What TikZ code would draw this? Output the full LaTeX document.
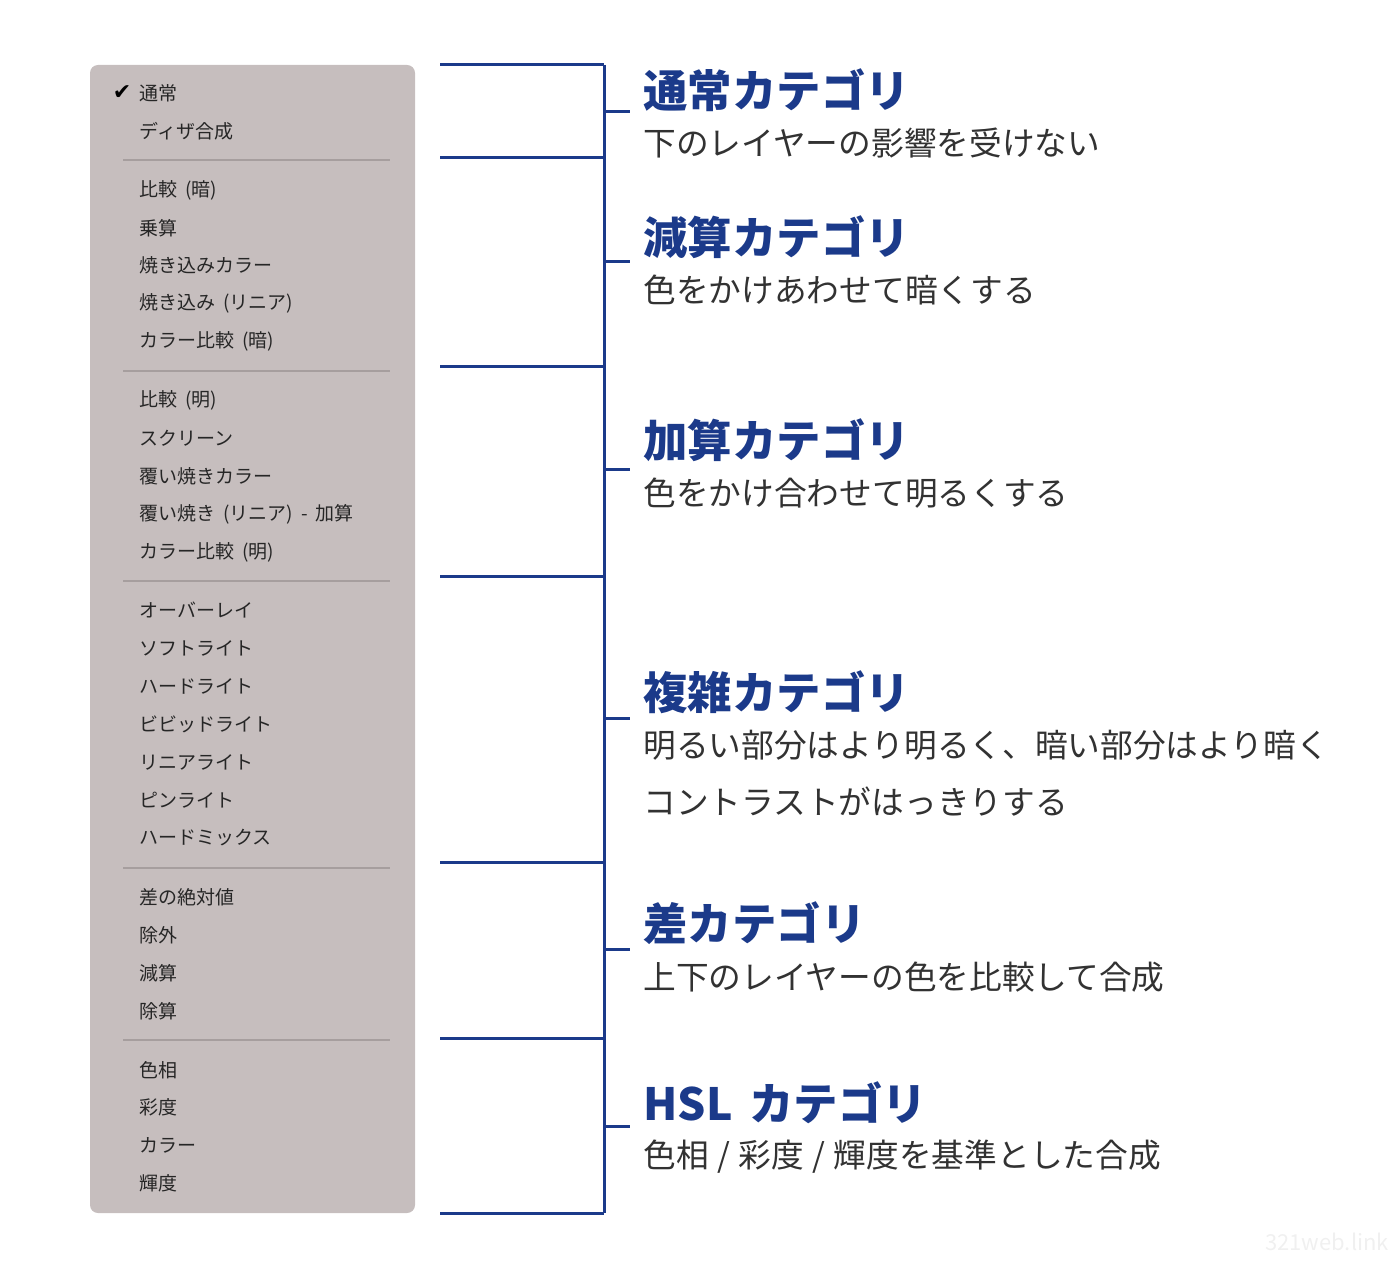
\documentclass[tikz,border=0pt]{standalone}
\usepackage{fontspec}
\setmainfont{Noto Sans CJK JP}
\newfontfamily\symfont{DejaVu Sans}
\usetikzlibrary{positioning}

\definecolor{catblue}{RGB}{27,58,138}
\definecolor{menubg}{RGB}{198,190,190}
\definecolor{menusep}{RGB}{166,158,158}
\definecolor{subgray}{RGB}{50,50,50}

\newcommand\itemfont{\fontsize{9.5}{11}\selectfont\spaceskip=0.42em\relax}
\newcommand\subfont{\fontsize{16.35}{19}\selectfont\spaceskip=0.26em\relax}

\tikzset{
	item/.style={anchor=west,inner sep=0pt,text=black!85,font=\itemfont},
	cattitle/.style={anchor=west,inner sep=0pt,text=catblue,
		font=\fontsize{22.2}{26}\selectfont\bfseries},
	catsub/.style={anchor=west,inner sep=0pt,text=subgray,font=\subfont},
	bracket/.style={draw=catblue,line width=1.5pt},
	menusepline/.style={draw=menusep,line width=0.6pt}}

\begin{document}
\begin{tikzpicture}[x=0.5pt,y=-0.5pt]
	\useasboundingbox (0,0) rectangle (1400,1262);
	% menu
	\fill[menubg,rounded corners=4pt] (90,65) rectangle (415,1213);
	\node[font=\symfont\fontsize{11}{12}\selectfont,inner sep=0pt](check) at (122,93){✔};
	\foreach \y/\t in {93/通常,131/ディザ合成,
		190/比較 (暗),228/乗算,265/焼き込みカラー,303/焼き込み (リニア),341/カラー比較 (暗),
		400/比較 (明),438/スクリーン,476/覆い焼きカラー,514/覆い焼き (リニア) - 加算,552/カラー比較 (明),
		610/オーバーレイ,648/ソフトライト,686/ハードライト,724/ビビッドライト,762/リニアライト,800/ピンライト,838/ハードミックス,
		897/差の絶対値,935/除外,973/減算,1011/除算,
		1070/色相,1107/彩度,1145/カラー,1183/輝度}
		\node[item](m\y) at (139,\y){\t};
	\foreach \y in {160,371,581,868,1040}
		\draw[menusepline] (123,\y) -- (390,\y);
	% bracket
	\foreach \y [count=\i] in {65,158,366,576,862,1038,1213}{
		\coordinate (l\i) at (440,\y);
		\coordinate (r\i) at (604,\y);
		\draw[bracket] (l\i) -- (r\i);}
	\draw[bracket] (r1) -- (r7);
	\foreach \y [count=\i] in {112,262,469,718,949,1126}{
		\coordinate (t\i) at (604,\y);
		\coordinate (u\i) at (630,\y);
		\draw[bracket] (t\i) -- (u\i);}
	% categories
	\node[cattitle](c1) at (643,90){通常カテゴリ};
	\node[catsub](s1) at (643,143){下のレイヤーの影響を受けない};
	\node[cattitle](c2) at (643,237){減算カテゴリ};
	\node[catsub](s2) at (643,290){色をかけあわせて暗くする};
	\node[cattitle](c3) at (643,440){加算カテゴリ};
	\node[catsub](s3) at (643,493){色をかけ合わせて明るくする};
	\node[cattitle](c4) at (643,692){複雑カテゴリ};
	\node[catsub](s4) at (643,745){明るい部分はより明るく、暗い部分はより暗く};
	\node[catsub](s4b) at (643,802){コントラストがはっきりする};
	\node[cattitle](c5) at (643,923){差カテゴリ};
	\node[catsub](s5) at (643,977){上下のレイヤーの色を比較して合成};
	\node[cattitle](c6) at (643,1103){HSL\hspace{0.15em} カテゴリ};
	\node[catsub](s6) at (643,1157){色相 / 彩度 / 輝度を基準とした合成};
	% watermark
	\node[text=black!6,font=\fontsize{11}{13}\selectfont,inner sep=0pt](wm) at (1327,1242){321web.link};
\end{tikzpicture}
\end{document}
